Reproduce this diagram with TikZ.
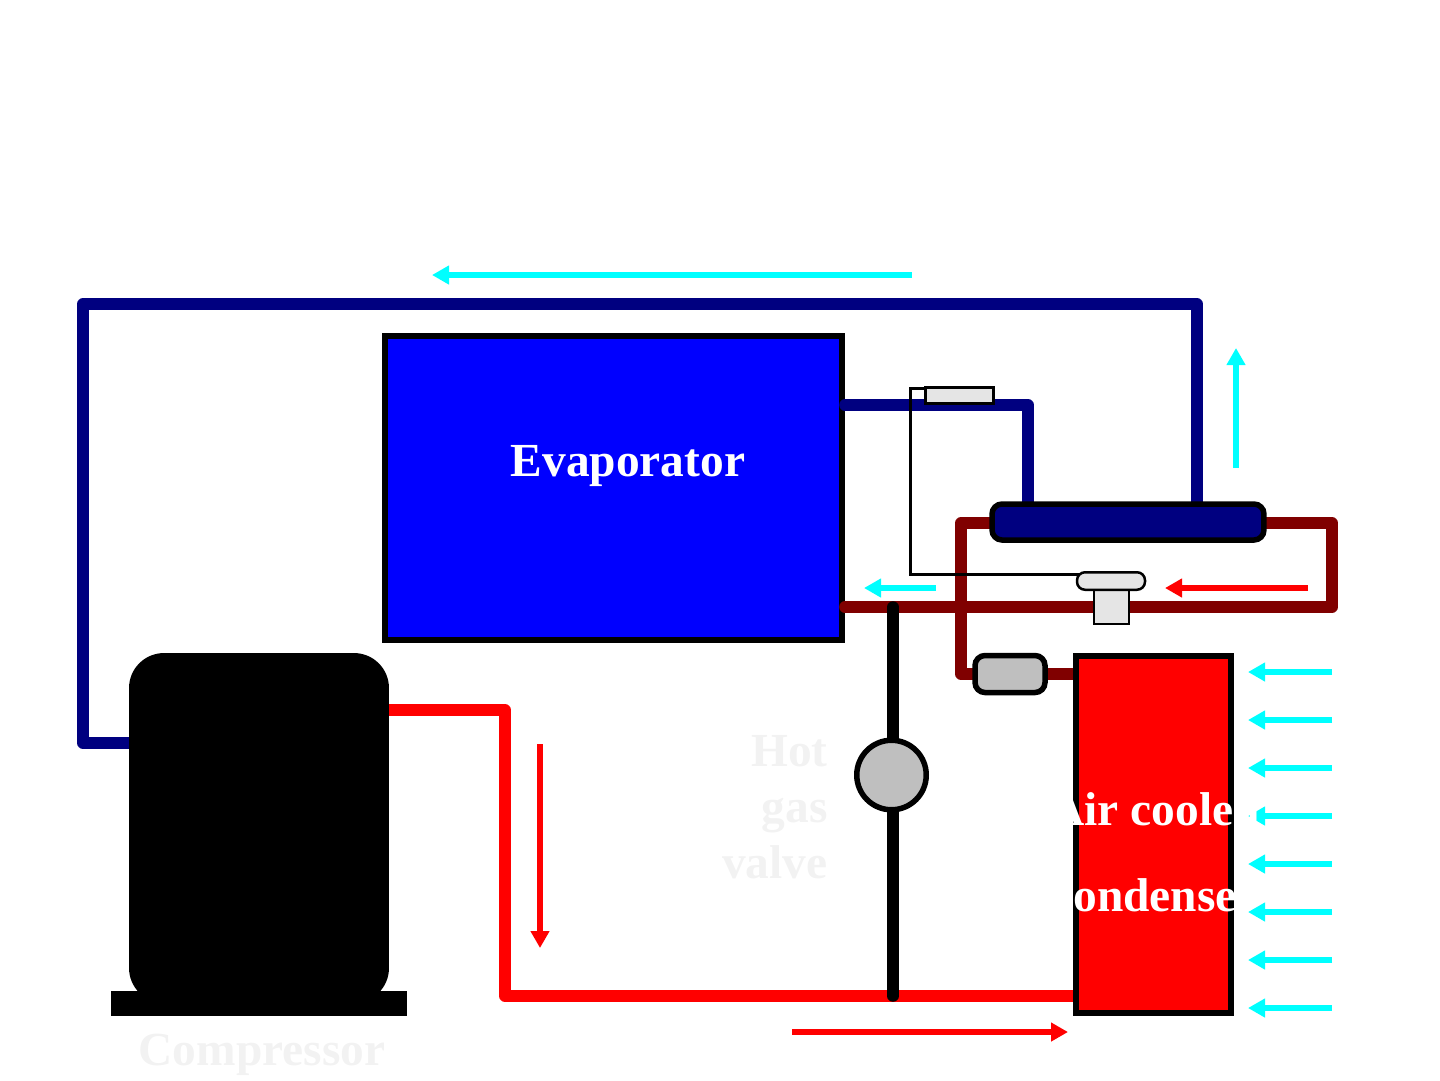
\documentclass[tikz,border=0pt]{standalone}
\usepackage{fontspec}
\setmainfont{Liberation Serif}
\usetikzlibrary{arrows.meta, positioning, calc}
\pgfdeclarelayer{front}
\pgfsetlayers{main,front}
\definecolor{aircyan}{RGB}{0,255,255}
\definecolor{coldblue}{RGB}{0,0,128}
\definecolor{liquidred}{RGB}{128,0,0}

\begin{document}
\begin{tikzpicture}[
    x=0.02cm, y=-0.02cm,
    unit/.style={rectangle, draw=black, line width=0.11cm, inner sep=0pt},
    fitting/.style={rectangle, draw=black, line width=0.05cm, inner sep=0pt, fill=black!10},
    pipe/.style={line width=0.23cm, line cap=round, line join=round},
    label/.style={font=\bfseries\fontsize{27}{32}\selectfont, text=white, inner sep=0pt},
    faint/.style={label, text=black!5},
    airarrow/.style={-{Triangle[length=0.34cm, width=0.36cm]}, line width=0.12cm, aircyan},
    flowarrow/.style={-{Triangle[length=0.34cm, width=0.36cm]}, line width=0.12cm, red}
]
\useasboundingbox (0,0) rectangle (1440,1080);

% Evaporator sits under the pipes
\node[unit, fill=blue, minimum width=9.15cm, minimum height=6.09cm] (evaporator) at (613.5,488) {};
\node[label] (evaplabel) at (628,466) {Evaporator};

% Units - in front of the pipes
\begin{pgfonlayer}{front}
\node[rectangle, fill=black, rounded corners=0.7cm, inner sep=0pt, minimum width=5.2cm, minimum height=7cm] (compressor) at (259,828) {};
\node[rectangle, fill=black, inner sep=0pt, minimum width=5.92cm, minimum height=0.5cm] (base) at (259,1003.5) {};
\node[unit, fill=red, minimum width=3.1cm, minimum height=7.14cm] (condenser) at (1153.5,834.5) {};
\node[unit, fill=black!25, rounded corners=0.2cm, minimum width=1.4cm, minimum height=0.74cm] (drier) at (1010,674) {};
\node[unit, fill=coldblue, rounded corners=0.2cm, minimum width=5.44cm, minimum height=0.72cm] (tank) at (1128,522) {};
\node[unit, circle, fill=black!25, minimum size=1.39cm] (hotgas) at (891.5,775) {};
\node[fitting, minimum width=1.36cm, minimum height=0.32cm] (bulb) at (959.5,395.5) {};
\node[fitting, minimum width=0.7cm, minimum height=0.7cm] (txvbody) at (1111.5,606.5) {};
\node[fitting, rounded corners=0.16cm, minimum width=1.36cm, minimum height=0.35cm] (txvhead) at (1111,581) {};
\node[label, align=center] (condlabel) at (1155,852) {Air cooled\\[0.59cm]condenser};
\end{pgfonlayer}

% Labels
\node[faint, align=right, anchor=east] (hotlabel) at (828,807) {Hot\\gas\\valve};
\node[faint] (complabel) at (262,1055) {Compressor};

% Named corners
\coordinate (suctiontop) at (1197,304);
\coordinate (suctionleft) at (83,743);
\coordinate (evapcorner) at (1028,405);
\coordinate (leftcorner) at (961,523);
\coordinate (rightcorner) at (1332,523);
\coordinate (lowcorner) at (1332,607);
\coordinate (dischargetop) at (505,710);
\coordinate (dischargelow) at (505,996);
\coordinate (bypasstop) at (893,607);
\coordinate (bypasslow) at (893,996);
\coordinate (capcorner) at (910.5,574);
\coordinate (captop) at (910.5,388.5);

% Pipes - suction
\draw[pipe, coldblue] (tank.north -| suctiontop) -- (suctiontop) -- (suctiontop -| suctionleft) -- (suctionleft) -- (compressor.west |- suctionleft);
\draw[pipe, coldblue] (evaporator.east |- evapcorner) -- (evapcorner) -- (tank.north -| evapcorner);

% Pipes - liquid
\draw[pipe, liquidred] (tank.west |- leftcorner) -- (leftcorner) -- (leftcorner |- drier) -- (drier.west);
\draw[pipe, liquidred] (drier.east) -- (condenser.west |- drier);
\draw[pipe, liquidred] (tank.east |- rightcorner) -- (rightcorner) -- (lowcorner) -- (evaporator.east |- lowcorner);

% Pipes - discharge
\draw[pipe, red] (compressor.east |- dischargetop) -- (dischargetop) -- (dischargelow) -- (condenser.west |- dischargelow);
\draw[pipe, black] (bypasstop) -- (hotgas.north -| bypasstop);
\draw[pipe, black] (hotgas.south -| bypasstop) -- (bypasslow);

% Capillary
\draw[line width=0.06cm, line join=miter] (txvhead.center |- capcorner) -- (capcorner) -- (captop) -- (bulb.center |- captop);

% Flow arrows
\coordinate (toparrowa) at (912,275);
\coordinate (toparrowb) at (432,275);
\coordinate (uparrowa) at (1236,468);
\coordinate (uparrowb) at (1236,348);
\coordinate (leftarrowa) at (936,588);
\coordinate (leftarrowb) at (864,588);
\coordinate (liquidarrowa) at (1308,588);
\coordinate (liquidarrowb) at (1165,588);
\coordinate (downarrowa) at (540,744);
\coordinate (downarrowb) at (540,948);
\coordinate (rightarrowa) at (792,1032);
\coordinate (rightarrowb) at (1068,1032);
\draw[airarrow] (toparrowa) -- (toparrowb);
\draw[airarrow] (uparrowa) -- (uparrowb);
\draw[airarrow] (leftarrowa) -- (leftarrowb);
\draw[flowarrow] (liquidarrowa) -- (liquidarrowb);
\draw[flowarrow] (downarrowa) -- (downarrowb);
\draw[flowarrow] (rightarrowa) -- (rightarrowb);

% Air over the condenser
\foreach \row in {672,720,768,816,864,912,960,1008}{
    \coordinate (aira\row) at (1332,\row);
    \coordinate (airb\row) at (1248,\row);
    \draw[airarrow] (aira\row) -- (airb\row);
}

\end{tikzpicture}
\end{document}
